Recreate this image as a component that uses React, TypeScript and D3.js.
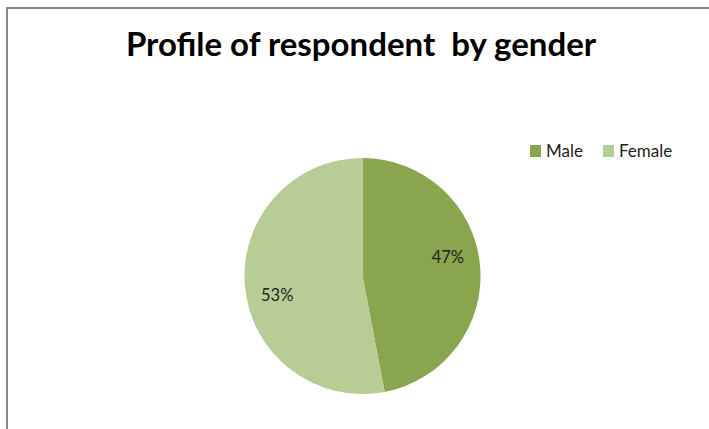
import React from "react";
import * as d3 from "d3";

const categories = ["Male", "Female"];
const values = [47, 53];
const colors = ["#89A54E", "#B8CD95"];
const title = "Profile of respondent  by gender";

export default function App() {
  const W = 709, H = 429;
  const cx = 362.5, cy = 276, r = 118;
  const pie = d3.pie<number>().sort(null).value((d) => d)(values);
  const arc = d3.arc<d3.PieArcDatum<number>>().innerRadius(0).outerRadius(r);
  const total = d3.sum(values);
  const legendX = [530, 603];
  const labelR = r * 0.74;
  const labelShift = -0.12;
  return (
    <svg width={W} height={H} style={{ position: "absolute", left: 0, top: 0, background: "#fff" }}
      fontFamily="Lato, 'Open Sans', sans-serif">
      <rect x={7} y={8} width={W + 20} height={H + 20} fill="#fff" stroke="#888" strokeWidth={2} />
      <text x={361} y={56} textAnchor="middle" fontSize={33} fontWeight="bold" fill="#000"
        style={{ whiteSpace: "pre" }}>{title}</text>
      <g transform={`translate(${cx},${cy})`}>
        {pie.map((p, i) => (
          <path key={i} d={arc(p) || ""} fill={colors[i]} />
        ))}
        {pie.map((p, i) => {
          const a = (p.startAngle + p.endAngle) / 2 + labelShift;
          const x = Math.sin(a) * labelR;
          const y = -Math.cos(a) * labelR;
          return (
            <text key={"l" + i} x={x} y={y} textAnchor="middle" dominantBaseline="central" fontSize={16.5} fill="#222">
              {Math.round((p.value / total) * 100) + "%"}
            </text>
          );
        })}
      </g>
      {categories.map((c, i) => (
        <g key={c}>
          <rect x={legendX[i]} y={145} width={11} height={12} fill={colors[i]} />
          <text x={legendX[i] + 16} y={157} fontSize={17} fill="#222">{c}</text>
        </g>
      ))}
    </svg>
  );
}
